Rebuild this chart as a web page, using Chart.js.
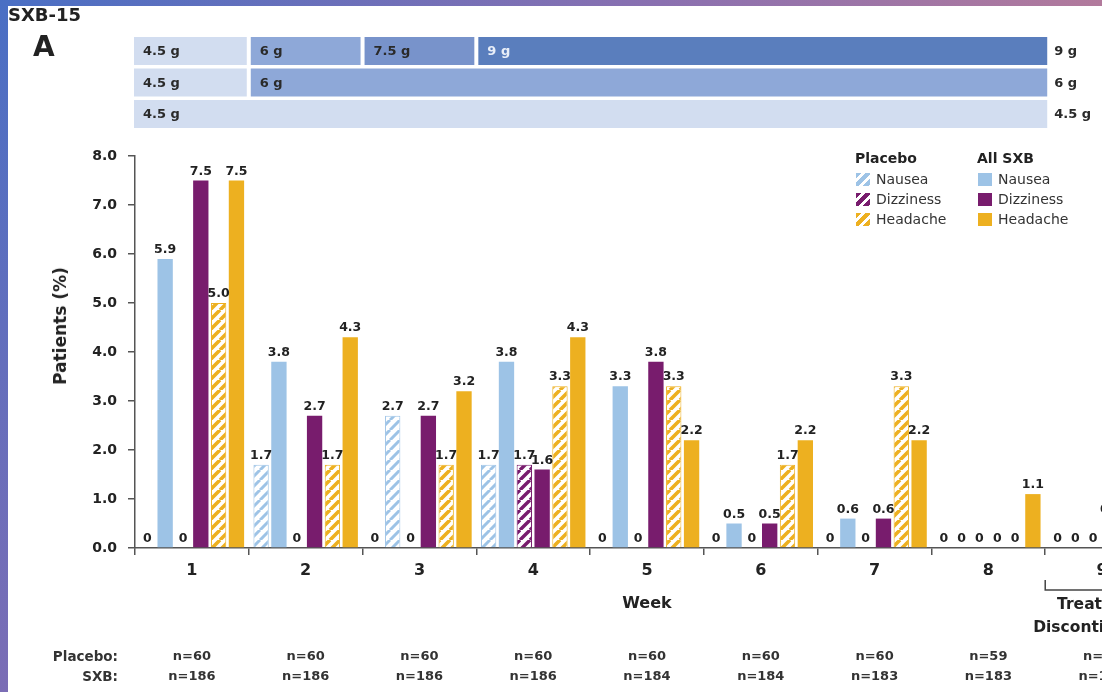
<!DOCTYPE html>
<html>
<head>
<meta charset="utf-8">
<script src="https://cdn.jsdelivr.net/npm/chart.js@4.4.1/dist/chart.umd.min.js"></script>
<style>
  html, body { margin: 0; padding: 0; }
  body {
    width: 1102px; height: 692px; overflow: hidden; position: relative;
    background: #fff; font-family: "DejaVu Sans", sans-serif; color: #222;
  }
  #chart { position: absolute; left: 0; top: 0; }
  .edge-left { position: absolute; left: 0; top: 0; width: 8px; height: 692px; z-index: 5;
    background: linear-gradient(#4a6fc4, #7b6db5); }
  .edge-top { position: absolute; left: 0; top: 0; width: 1102px; height: 6px; z-index: 5;
    background: linear-gradient(90deg, #4a6fc4, #8a70b0 60%, #b27a9c); }
  .study { position: absolute; left: 8px; top: 5px; font-weight: bold; font-size: 18px; line-height: 20px; }
  .panel { position: absolute; left: 33px; top: 32px; font-weight: bold; font-size: 28px; line-height: 30px; }
  .ytitle { position: absolute; left: 60px; top: 326px; font-weight: bold; font-size: 17px; white-space: nowrap;
    transform: translate(-50%, -50%) rotate(-90deg); }
  .lg { position: absolute; font-size: 14px; line-height: 16px; color: #333; white-space: nowrap; }
  .lg.head { font-weight: bold; color: #222; }
  .sw { position: absolute; width: 14px; height: 13px; box-sizing: border-box; }
</style>
</head>
<body>
<canvas id="chart" width="1240" height="692"></canvas>
<div class="edge-left"></div>
<div class="edge-top"></div>
<div class="study">SXB-15</div>
<div class="panel">A</div>
<div class="ytitle">Patients (%)</div>
<div id="legend"></div>

<script>
// chart values
const weeks = ["1", "2", "3", "4", "5", "6", "7", "8", "9"];
const placeboNausea = [0, 1.7, 0, 1.7, 0, 0, 0, 0, 0];
const sxbNausea = [5.9, 3.8, 2.7, 3.8, 3.3, 0.5, 0.6, 0, 0];
const placeboDizziness = [0, 0, 0, 1.7, 0, 0, 0, 0, 0];
const sxbDizziness = [7.5, 2.7, 2.7, 1.6, 3.8, 0.5, 0.6, 0, 0.6];
const placeboHeadache = [5.0, 1.7, 1.7, 3.3, 3.3, 1.7, 3.3, 0, 0];
const sxbHeadache = [7.5, 4.3, 3.2, 4.3, 2.2, 2.2, 2.2, 1.1, 0];
const placeboN = [60, 60, 60, 60, 60, 60, 60, 59, 59];
const sxbN = [186, 186, 186, 186, 184, 184, 183, 183, 181];
const yTicks = [0, 1, 2, 3, 4, 5, 6, 7, 8];

// dose titration rows: [label, first week, last week]
const doseRow1 = [["4.5 g", 1, 1], ["6 g", 2, 2], ["7.5 g", 3, 3], ["9 g", 4, 8]];
const doseRow2 = [["4.5 g", 1, 1], ["6 g", 2, 8]];
const doseRow3 = [["4.5 g", 1, 8]];
const doseFinal = ["9 g", "6 g", "4.5 g"];

const BLUE = "#9dc3e6";
const PURPLE = "#781c6d";
const YELLOW = "#edb020";
const doseColors = { "4.5 g": "#d2ddf0", "6 g": "#8ea8d8", "7.5 g": "#7893cb", "9 g": "#5a7ebd" };

// diagonal hatch fill for placebo bars
function hatch(color, lw) {
  const s = 10;
  const c = document.createElement("canvas");
  c.width = c.height = s;
  const g = c.getContext("2d");
  g.fillStyle = "#fff";
  g.fillRect(0, 0, s, s);
  g.strokeStyle = color;
  g.lineWidth = lw;
  g.beginPath();
  for (const k of [-s, 0, s]) {
    g.moveTo(k, s);
    g.lineTo(k + s, 0);
  }
  g.stroke();
  return g.createPattern(c, "repeat");
}
const hBlue = hatch(BLUE, 3);
const hPurple = hatch(PURPLE, 3.4);
const hYellow = hatch(YELLOW, 3.6);

// legend (html)
const legendItems = [
  ["Placebo", 855, [["Nausea", `repeating-linear-gradient(135deg, ${BLUE} 0 4px, #fff 4px 7px)`],
                    ["Dizziness", `repeating-linear-gradient(135deg, ${PURPLE} 0 4px, #fff 4px 7px)`],
                    ["Headache", `repeating-linear-gradient(135deg, ${YELLOW} 0 4px, #fff 4px 7px)`]]],
  ["All SXB", 977, [["Nausea", BLUE], ["Dizziness", PURPLE], ["Headache", YELLOW]]],
];
const legend = document.getElementById("legend");
legendItems.forEach(([head, x, rows]) => {
  legend.innerHTML += `<div class="lg head" style="left:${x}px;top:150px">${head}</div>`;
  rows.forEach(([name, bg], i) => {
    const y = 173 + i * 20;
    legend.innerHTML += `<div class="sw" style="left:${x + 1}px;top:${y}px;background:${bg}"></div>`;
    legend.innerHTML += `<div class="lg" style="left:${x + 21}px;top:${y - 2}px">${name}</div>`;
  });
});

// value labels above bars
const barLabels = {
  id: "barLabels",
  afterDatasetsDraw(chart) {
    const ctx = chart.ctx;
    ctx.save();
    ctx.font = 'bold 12.5px "DejaVu Sans"';
    ctx.fillStyle = "#222";
    ctx.textAlign = "center";
    ctx.textBaseline = "bottom";
    chart.data.datasets.forEach((ds, i) => {
      chart.getDatasetMeta(i).data.forEach((bar, j) => {
        const v = ds.data[j];
        ctx.fillText(v === 0 ? "0" : v.toFixed(1), bar.x, bar.y - 3);
      });
    });
    ctx.restore();
  },
};

// dose bars on top, n rows and treatment bracket below
const extras = {
  id: "extras",
  afterDraw(chart) {
    const ctx = chart.ctx;
    const x = chart.scales.x;
    const slot = x.getPixelForValue(1) - x.getPixelForValue(0);
    const leftOf = (w) => x.getPixelForValue(w - 1) - slot / 2;
    const rightOf = (w) => x.getPixelForValue(w - 1) + slot / 2;
    ctx.save();

    [doseRow1, doseRow2, doseRow3].forEach((row, r) => {
      const top = 37 + r * 31.5;
      const h = 28;
      row.forEach(([label, a, b]) => {
        const x1 = a === 1 ? leftOf(a) - 1 : leftOf(a) + 2;
        const x2 = b === 8 ? rightOf(b) + 2 : rightOf(b) - 2;
        ctx.fillStyle = doseColors[label];
        ctx.fillRect(x1, top, x2 - x1, h);
        ctx.font = 'bold 13px "DejaVu Sans"';
        ctx.textBaseline = "middle";
        ctx.textAlign = "left";
        ctx.fillStyle = label === "9 g" ? "#e8eef8" : "#2a2a2a";
        ctx.fillText(label, x1 + 9, top + h / 2 + 1);
      });
      ctx.fillStyle = "#2a2a2a";
      ctx.fillText(doseFinal[r], rightOf(8) + 9, top + h / 2 + 1);
    });

    // n rows
    ctx.textBaseline = "middle";
    ctx.fillStyle = "#333";
    ctx.textAlign = "right";
    ctx.font = 'bold 13.5px "DejaVu Sans"';
    ctx.fillText("Placebo:", 118, 657);
    ctx.fillText("SXB:", 118, 677);
    ctx.textAlign = "center";
    ctx.font = 'bold 13px "DejaVu Sans"';
    weeks.forEach((w, i) => {
      const cx = x.getPixelForValue(i);
      ctx.fillText("n=" + placeboN[i], cx, 657);
      ctx.fillText("n=" + sxbN[i], cx, 677);
    });

    // treatment discontinuation bracket under week 9
    const bx = leftOf(9);
    ctx.strokeStyle = "#444";
    ctx.lineWidth = 1.5;
    ctx.beginPath();
    ctx.moveTo(bx, 580);
    ctx.lineTo(bx, 590);
    ctx.lineTo(rightOf(9) - 2, 590);
    ctx.stroke();
    ctx.fillStyle = "#222";
    ctx.font = 'bold 15.5px "DejaVu Sans"';
    const cx9 = x.getPixelForValue(8);
    ctx.fillText("Treatment", cx9, 605);
    ctx.fillText("Discontinuation", cx9, 628);
    ctx.restore();
  },
};

Chart.defaults.font.family = '"DejaVu Sans", sans-serif';
Chart.defaults.color = "#222";

const sxbNauseaFill = (c) => (weeks[c.dataIndex] === "3" ? hBlue : BLUE); // week 3 bar is hatched in the source

new Chart(document.getElementById("chart"), {
  type: "bar",
  data: {
    labels: weeks,
    datasets: [
      { label: "Placebo Nausea", data: placeboNausea, backgroundColor: hBlue, borderColor: BLUE, borderWidth: 1 },
      { label: "All SXB Nausea", data: sxbNausea, backgroundColor: sxbNauseaFill,
        borderColor: BLUE, borderWidth: (c) => (weeks[c.dataIndex] === "3" ? 1 : 0) },
      { label: "Placebo Dizziness", data: placeboDizziness, backgroundColor: hPurple, borderColor: PURPLE, borderWidth: 1 },
      { label: "All SXB Dizziness", data: sxbDizziness, backgroundColor: PURPLE, borderWidth: 0 },
      { label: "Placebo Headache", data: placeboHeadache, backgroundColor: hYellow, borderColor: YELLOW, borderWidth: 1 },
      { label: "All SXB Headache", data: sxbHeadache, backgroundColor: YELLOW, borderWidth: 0 },
    ],
  },
  options: {
    responsive: false,
    animation: false,
    devicePixelRatio: 1,
    categoryPercentage: 0.94,
    barPercentage: 0.86,
    layout: { padding: { left: 0, top: 156, right: 81, bottom: 78 } },
    plugins: { legend: { display: false }, tooltip: { enabled: false } },
    scales: {
      x: {
        afterFit: (s) => { s.height = 66; },
        grid: { drawOnChartArea: false, tickLength: 7, color: "#555", lineWidth: 1.5, offset: true },
        border: { color: "#555", width: 1.5 },
        ticks: { font: { size: 16, weight: "bold" }, padding: 6, color: "#222" },
        title: { display: true, text: "Week", font: { size: 16, weight: "bold" }, padding: { top: 0, bottom: 1 }, color: "#222" },
      },
      y: {
        min: 0,
        max: 8,
        afterFit: (s) => { s.width = 135; },
        afterBuildTicks: (s) => { s.ticks = yTicks.map((v) => ({ value: v })); },
        grid: { drawOnChartArea: false, tickLength: 7, color: "#555", lineWidth: 1.5 },
        border: { color: "#555", width: 1.5 },
        ticks: { font: { size: 14, weight: "bold" }, padding: 11, color: "#222", callback: (v) => v.toFixed(1) },
      },
    },
  },
  plugins: [barLabels, extras],
});
</script>
</body>
</html>
